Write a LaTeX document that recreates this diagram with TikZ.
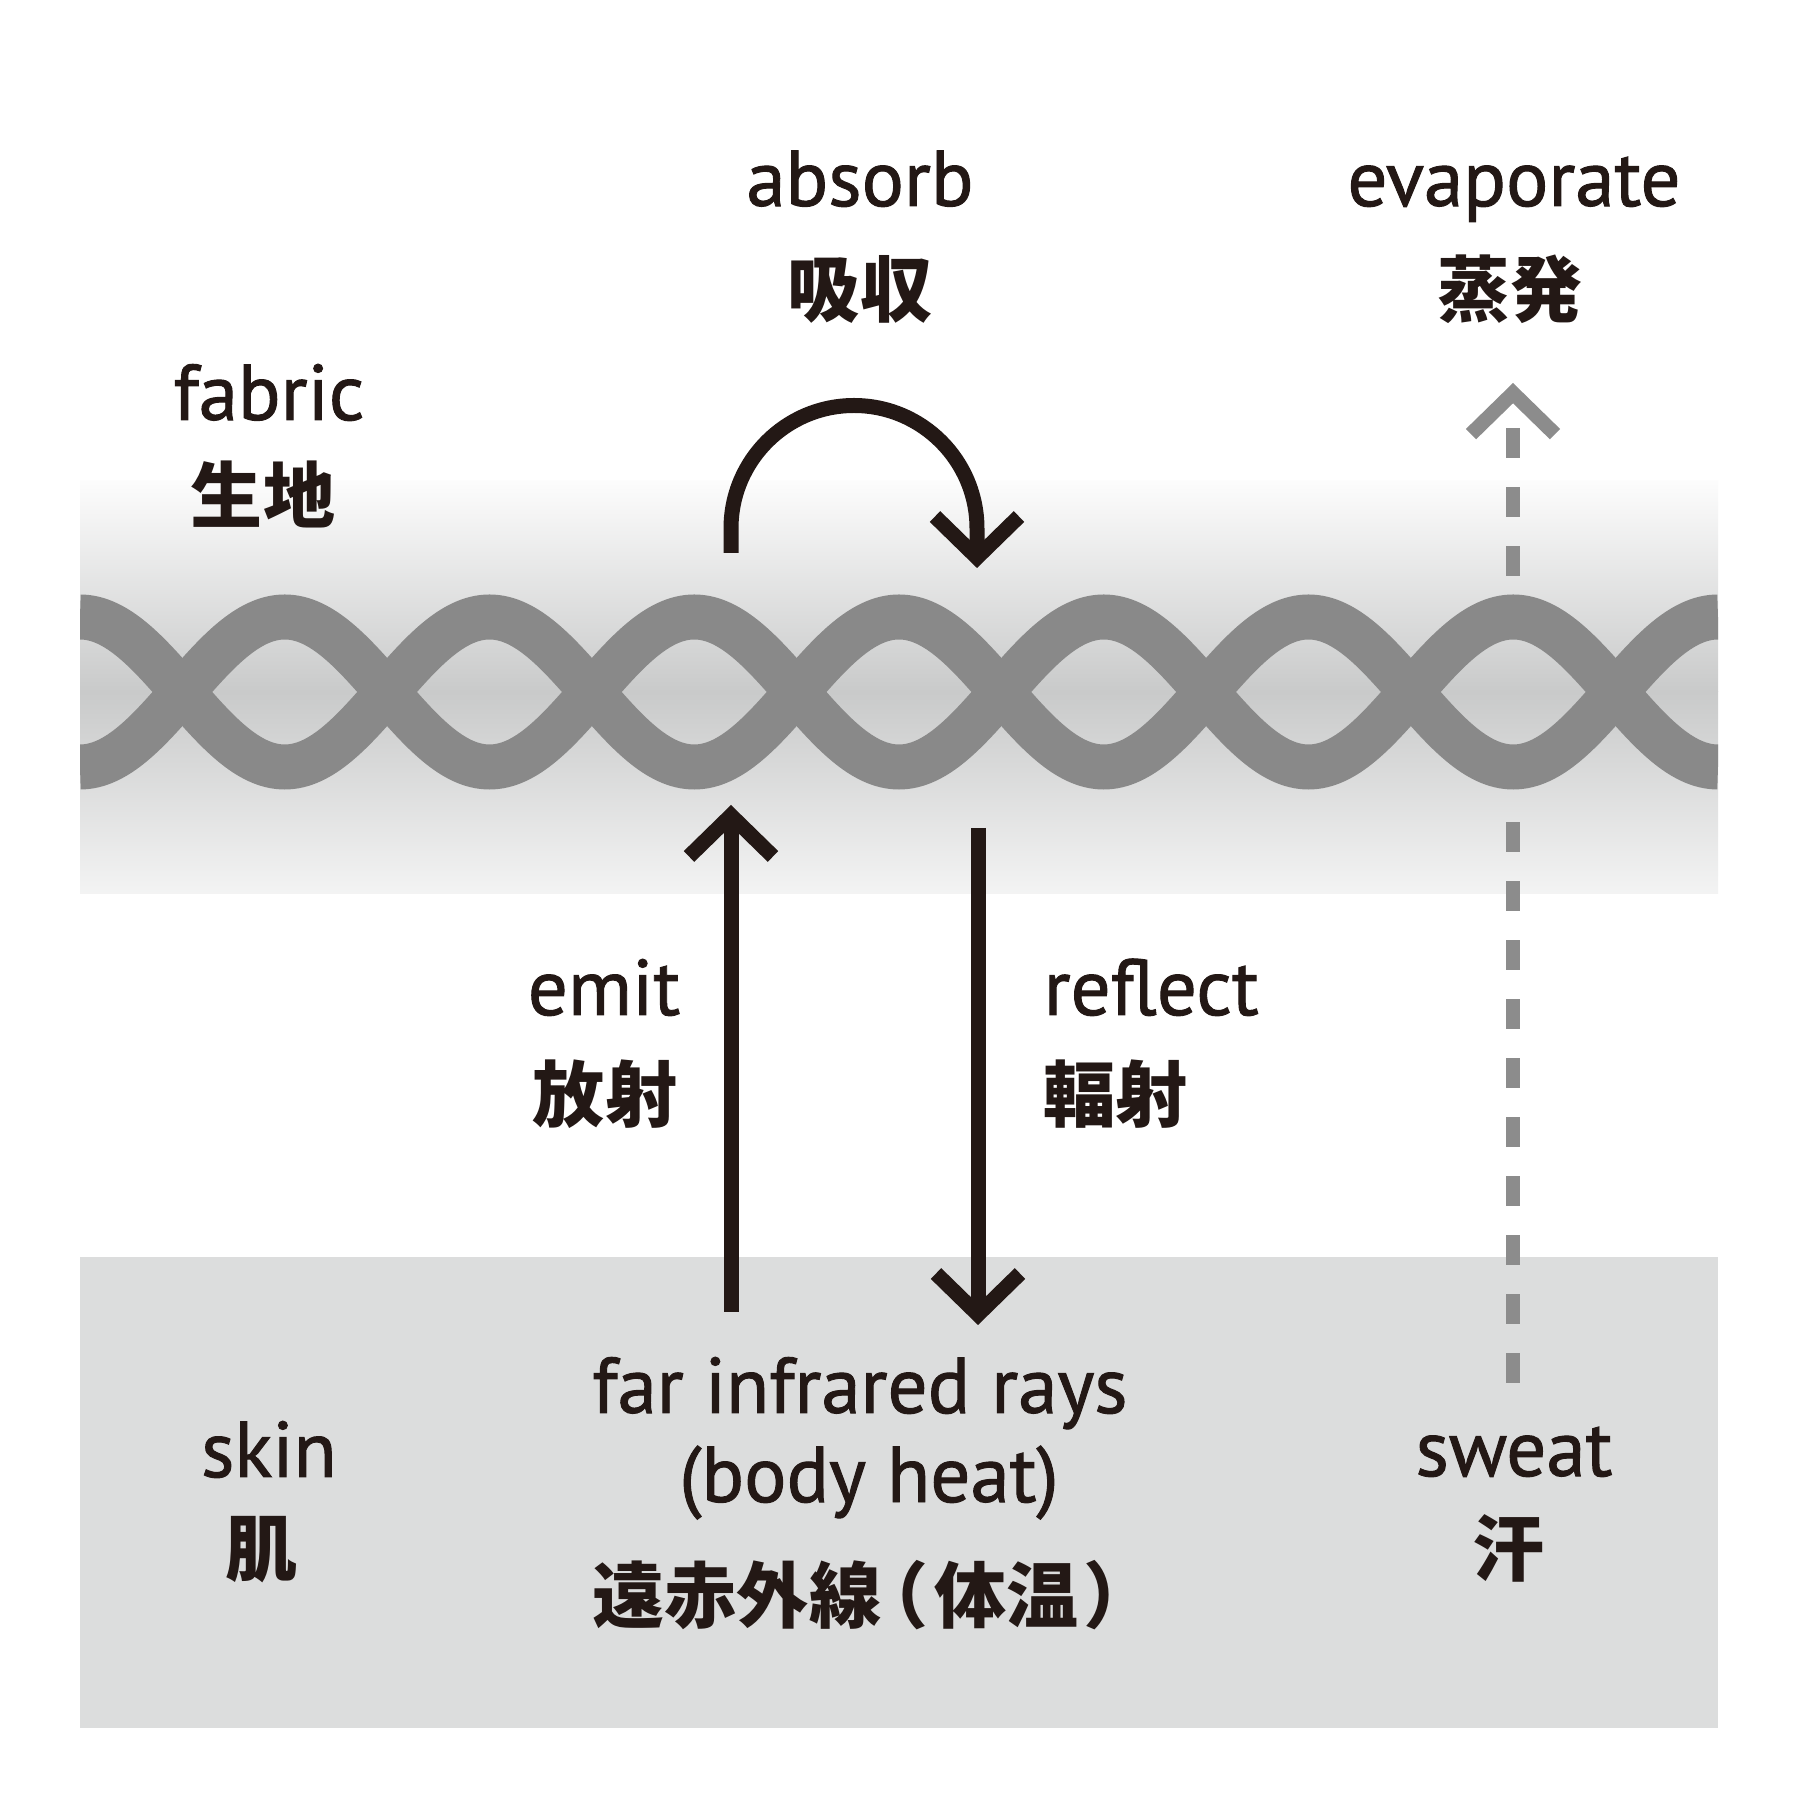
\documentclass[tikz,border=0pt]{standalone}
\usepackage{fontspec}
\usetikzlibrary{arrows.meta}
\newfontfamily\enfont{PT Sans}[FakeBold=1.2]
\newfontfamily\jpfont{Noto Sans CJK JP}
\newfontfamily\jpwfont{Noto Sans CJK JP}[RawFeature=+palt]
\definecolor{inkc}{RGB}{35,24,21}
\definecolor{threadc}{RGB}{137,137,137}
\definecolor{bandc}{RGB}{201,202,202}
\definecolor{skinc}{RGB}{220,221,221}
\definecolor{steamc}{RGB}{140,140,140}
\tikzset{
  en/.style={font=\enfont\fontsize{22.5}{26}\selectfont, text=inkc, inner sep=0pt, anchor=base},
  jp/.style={font=\jpfont\bfseries\fontsize{20.5}{24}\selectfont, text=inkc, inner sep=0pt, anchor=base},
  barb/.style={-{Straight Barb[length=0.41cm,width=0.84cm]}},
  ray/.style={draw=inkc, line width=0.15cm, barb},
  vapour/.style={draw=steamc, line width=0.145cm, dash pattern=on 0.30cm off 0.29cm},
  thread/.style={draw=threadc, line width=0.45cm},
}

\begin{document}
\begin{tikzpicture}
\useasboundingbox (0,0) rectangle (18,18);
\fill[white] (0,0) rectangle (18,18);

% skin and fabric band
\fill[skinc] (0.80,0.72) rectangle (17.18,5.43);
\shade[top color=white!95!bandc, bottom color=bandc] (0.80,11.08) rectangle (17.18,13.19);
\shade[top color=bandc, bottom color=white!78!bandc] (0.80,9.06) rectangle (17.18,11.08);

% woven threads
\begin{scope}
\clip (0.80,9) rectangle (17.18,13.3);
\draw[thread] (0.80,11.83) \foreach \k in {1,...,4} {
  cos ++(1.02375,-0.75) sin ++(1.02375,-0.75) cos ++(1.02375,0.75) sin ++(1.02375,0.75)};
\draw[thread] (0.80,10.33) \foreach \k in {1,...,4} {
  cos ++(1.02375,0.75) sin ++(1.02375,0.75) cos ++(1.02375,-0.75) sin ++(1.02375,-0.75)};
\end{scope}

% sweat evaporating
\coordinate (sweatfrom) at (15.13,4.17);
\coordinate (sweatto) at (15.13,9.78);
\coordinate (evapfrom) at (15.13,12.24);
\coordinate (evapto) at (15.13,14.17);
\draw[vapour] (sweatfrom) -- (sweatto);
\draw[vapour, barb] (evapfrom) -- (evapto);

% rays
\coordinate (emitfrom) at (7.31,4.88);
\coordinate (emitto) at (7.31,9.95);
\coordinate (reflectfrom) at (9.78,9.72);
\coordinate (reflectto) at (9.78,4.75);
\coordinate (absorbfrom) at (7.31,12.47);
\coordinate (absorbto) at (9.77,12.32);
\draw[ray] (emitfrom) -- (emitto);
\draw[ray] (reflectfrom) -- (reflectto);
\draw[ray] (absorbfrom) -- ++(0,0.245) arc[start angle=180, end angle=0, radius=1.23] -- (absorbto);

% labels
\node[en] (fabric) at (2.69,13.80) {fabric};
\node[jp] (fabricjp) at (2.63,12.77) {生地};
\node[en] (absorb) at (8.60,15.94) {absorb};
\node[jp] (absorbjp) at (8.60,14.83) {吸収};
\node[en] (evap) at (15.14,15.94) {evaporate};
\node[jp] (evapjp) at (15.10,14.83) {蒸発};
\node[en] (emit) at (6.04,7.85) {emit};
\node[jp] (emitjp) at (6.05,6.78) {放射};
\node[en, anchor=base west] (reflect) at (10.43,7.85) {reflect};
\node[jp, anchor=base west] (reflectjp) at (10.43,6.78) {輻射};
\node[en] (far) at (8.60,3.87) {far infrared rays};
\node[en] (heat) at (8.69,2.98) {(body heat)};
\node[jp] (farjp) at (8.58,1.77) {遠赤外線\kern0.12em{\jpwfont （}\kern0.12em 体温\kern0.12em{\jpwfont ）}};
\node[en] (skin) at (2.69,3.23) {skin};
\node[jp] (skinjp) at (2.62,2.25) {肌};
\node[en] (sweat) at (15.14,3.24) {sweat};
\node[jp] (sweatjp) at (15.09,2.25) {汗};
\end{tikzpicture}
\end{document}
